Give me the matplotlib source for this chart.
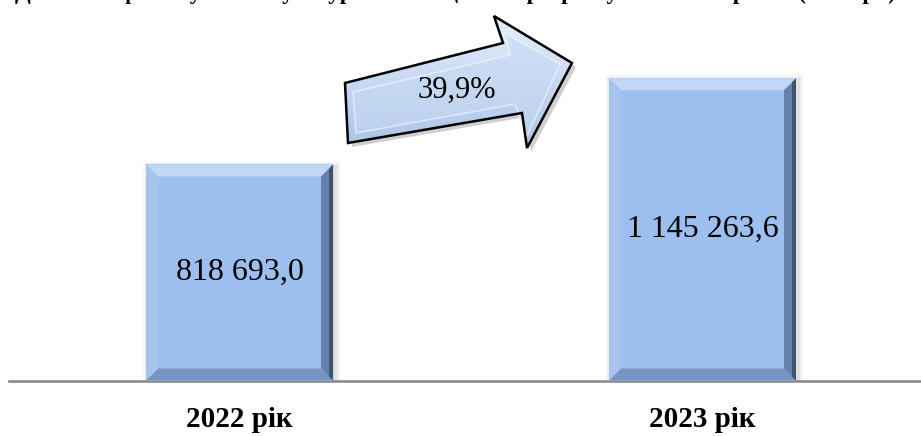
import matplotlib.pyplot as plt
import numpy as np
from matplotlib.patches import Polygon

years = ["2022 рік", "2023 рік"]
values = [818693.0, 1145263.6]
title = "Динаміка фінансування культурно-мистецьких програм у 2022–2023 роках (тис. грн)"

W, H = 921, 436
SERIF = "Liberation Serif"


def fmt(v):
    return f"{v:,.1f}".replace(",", " ").replace(".", ",")


fig = plt.figure(figsize=(W / 100, H / 100), dpi=100)
# y = 0 sits at pixel row 380, axes top at pixel row 0
ax = fig.add_axes([9 / W, (H - 380.5) / H, (W - 9) / W, 380.5 / H])
ax.set_xlim(-0.498, 1.472)
ax.set_ylim(0, values[0] * 380.5 / 216)

x = np.arange(len(years))
bars = ax.bar(x, values, width=0.404, color="#9dbff0", zorder=3)

for s in ["top", "left", "right"]:
    ax.spines[s].set_visible(False)
ax.spines["bottom"].set_color("#868686")
ax.spines["bottom"].set_linewidth(1.8)
ax.set_yticks([])
ax.set_xticks(x, years, fontsize=21, fontweight="bold", family=SERIF)
ax.tick_params(axis="x", length=0, pad=18)

inv = ax.transData.inverted()


def to_data(pts):
    return inv.transform(np.array(pts))


# bevel and soft shadow on the bars
b = 12
for bar, v in zip(bars, values):
    (x0, y0), (x1, y1) = ax.transData.transform([(bar.get_x(), 0), (bar.get_x() + bar.get_width(), v)])
    for k, a in [(5, 0.04), (3.5, 0.06), (2, 0.09)]:
        sh = [(x0 - k + 2, y0), (x1 + k + 2, y0), (x1 + k + 2, y1 + k - 2), (x0 - k + 2, y1 + k - 2)]
        ax.add_patch(Polygon(to_data(sh), closed=True, color="#555555", alpha=a, lw=0, zorder=2))
    faces = [
        ([(x0, y1), (x1, y1), (x1 - b, y1 - b), (x0 + b, y1 - b)], "#c2d8f6"),
        ([(x0, y0), (x1, y0), (x1 - b, y0 + b), (x0 + b, y0 + b)], "#7895c0"),
        ([(x0, y0), (x0, y1), (x0 + b, y1 - b), (x0 + b, y0 + b)], "#a6c3eb"),
        ([(x1, y0), (x1, y1), (x1 - b, y1 - b), (x1 - b, y0 + b)], "#6482ab"),
        ([(x1, y0), (x1, y1), (x1 - 4, y1 - 4), (x1 - 4, y0 + 4)], "#3f5270"),
    ]
    for pts, c in faces:
        ax.add_patch(Polygon(to_data(pts), closed=True, color=c, lw=0, zorder=4))
    ax.text(bar.get_x() + bar.get_width() / 2, v / 2, fmt(v), ha="center", va="center",
            fontsize=23, family=SERIF, zorder=5)

# overlay in pixel coordinates for the arrow and the clipped title
deco = fig.add_axes([0, 0, 1, 1])
deco.set_xlim(0, W)
deco.set_ylim(H, 0)
deco.axis("off")
deco.patch.set_alpha(0)

# the title is cut off by the top edge in the reference: only descenders show
deco.text(455, -1.5, title, ha="center", va="baseline", fontsize=16.5,
          fontweight="bold", family=SERIF)

arrow = [(348, 143), (345, 83), (503, 43), (494, 16), (572, 63), (527, 148), (522, 113)]
shadow = [(px + 4, py + 4) for px, py in arrow]
deco.add_patch(Polygon(shadow, closed=True, color="#777777", alpha=0.35, lw=0, zorder=1))
outline = Polygon(arrow, closed=True, facecolor="none", edgecolor="black", lw=1.8, zorder=4)
grad = np.linspace(0, 1, 256).reshape(-1, 1)
img = deco.imshow(grad, cmap=plt.matplotlib.colors.LinearSegmentedColormap.from_list(
    "arr", ["#e9f1fc", "#c8daf3", "#a9c2e6"]), extent=(340, 580, 150, 12),
    aspect="auto", zorder=2)
clip = Polygon(arrow, closed=True, transform=deco.transData)
img.set_clip_path(clip)
inner = [(356, 133), (353, 92), (510, 55), (505, 33), (560, 64), (527, 136), (515, 104)]
deco.add_patch(Polygon(inner, closed=True, facecolor="#c6d9f3", edgecolor="#f4f8fe",
                       lw=1.2, alpha=0.6, zorder=3))
deco.add_patch(outline)
deco.set_xlim(0, W)
deco.set_ylim(H, 0)

growth = (values[1] / values[0] - 1) * 100
deco.text(457, 90, f"{growth:.1f}".replace(".", ",") + "%", ha="center", va="center",
          fontsize=22, family=SERIF, zorder=5)

fig.savefig("out.png", dpi=100)
